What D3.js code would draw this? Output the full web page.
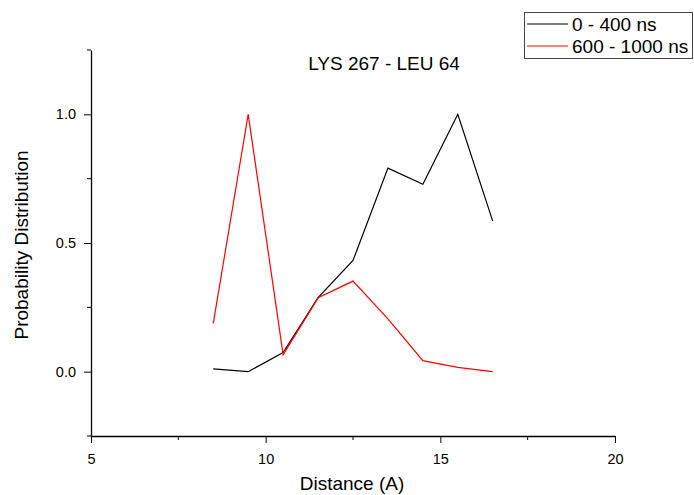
<!DOCTYPE html>
<html>
<head>
<meta charset="utf-8">
<script src="https://cdn.jsdelivr.net/npm/d3@7"></script>
<style>
  body { margin: 0; background: #fff; }
  svg { display: block; font-family: "Liberation Sans", Arial, sans-serif; }
</style>
</head>
<body>
<svg id="chart" width="694" height="495"></svg>
<script>
// Distance bins (Å) and normalised probability for each time window
const distance = [8.5, 9.5, 10.5, 11.5, 12.5, 13.5, 14.5, 15.5, 16.5];
const early = [0.011, 0.0, 0.074, 0.288, 0.432, 0.791, 0.728, 1.0, 0.585];
const late = [0.188, 1.0, 0.066, 0.287, 0.352, 0.205, 0.043, 0.017, 0.0];
const seriesNames = ["0 - 400 ns", "600 - 1000 ns"];
const seriesColors = ["#000000", "#ff0000"];
const xTicks = [5, 10, 15, 20];
const xMinor = [7.5, 12.5, 17.5];
const yTicks = [0.0, 0.5, 1.0];
const yMinor = [-0.25, 0.25, 0.75, 1.25];

(function () {
const svg = d3.select("#chart");
const plotLeft = 91, plotRight = 615, plotTop = 50, plotBottom = 436;
const fontFamily = "Liberation Sans, Arial, sans-serif";

const x = d3.scaleLinear().domain([5, 20]).range([plotLeft, plotRight]);
const y = d3.scaleLinear().domain([-0.25, 1.25]).range([plotBottom, plotTop]);

// Axes with major ticks and labels
const xAxis = d3.axisBottom(x).tickValues(xTicks).tickFormat(d3.format("d"))
  .tickSize(7).tickSizeOuter(0).tickPadding(11);
const yAxis = d3.axisLeft(y).tickValues(yTicks).tickFormat(d3.format(".1f"))
  .tickSize(7).tickSizeOuter(0).tickPadding(8);

const gx = svg.append("g").attr("transform", `translate(0,${plotBottom})`).call(xAxis);
const gy = svg.append("g").attr("transform", `translate(${plotLeft},0)`).call(yAxis);

[gx, gy].forEach(g => {
  g.attr("font-size", 14.5).attr("font-family", fontFamily);
  g.select(".domain").attr("stroke", "#000").attr("stroke-width", 1.3);
  g.selectAll(".tick line").attr("stroke", "#000").attr("stroke-width", 1);
  g.selectAll(".tick text").attr("fill", "#000");
});

// Minor ticks
gx.selectAll(".minor").data(xMinor).enter().append("line")
  .attr("x1", d => x(d)).attr("x2", d => x(d)).attr("y1", 0).attr("y2", 4)
  .attr("stroke", "#000");
gy.selectAll(".minor").data(yMinor).enter().append("line")
  .attr("y1", d => y(d)).attr("y2", d => y(d)).attr("x1", 0).attr("x2", -4)
  .attr("stroke", "#000");

// Series lines
const line = d3.line().x((d, i) => x(distance[i])).y(d => y(d));
[early, late].forEach((vals, k) => {
  svg.append("path").datum(vals)
    .attr("fill", "none")
    .attr("stroke", seriesColors[k])
    .attr("stroke-width", 1.2)
    .attr("d", line);
});

// Titles
svg.append("text").attr("x", 384).attr("y", 70).attr("text-anchor", "middle")
  .attr("font-size", 19).text("LYS 267 - LEU 64");
svg.append("text").attr("x", 352).attr("y", 490).attr("text-anchor", "middle")
  .attr("font-size", 19).text("Distance (A)");
svg.append("text").attr("transform", "translate(28,245) rotate(-90)")
  .attr("text-anchor", "middle").attr("font-size", 19).text("Probability Distribution");

// Legend
const lg = svg.append("g");
lg.append("rect").attr("x", 524.5).attr("y", 12.5).attr("width", 168).attr("height", 46)
  .attr("fill", "#fff").attr("stroke", "#444").attr("stroke-width", 1);
seriesNames.forEach((name, k) => {
  const ly = 24 + k * 22;
  lg.append("line").attr("x1", 527).attr("x2", 568).attr("y1", ly).attr("y2", ly)
    .attr("stroke", seriesColors[k]).attr("stroke-width", 1.2);
  lg.append("text").attr("x", 572).attr("y", ly + 7).attr("font-size", 19).text(name);
});
})();
</script>
</body>
</html>
